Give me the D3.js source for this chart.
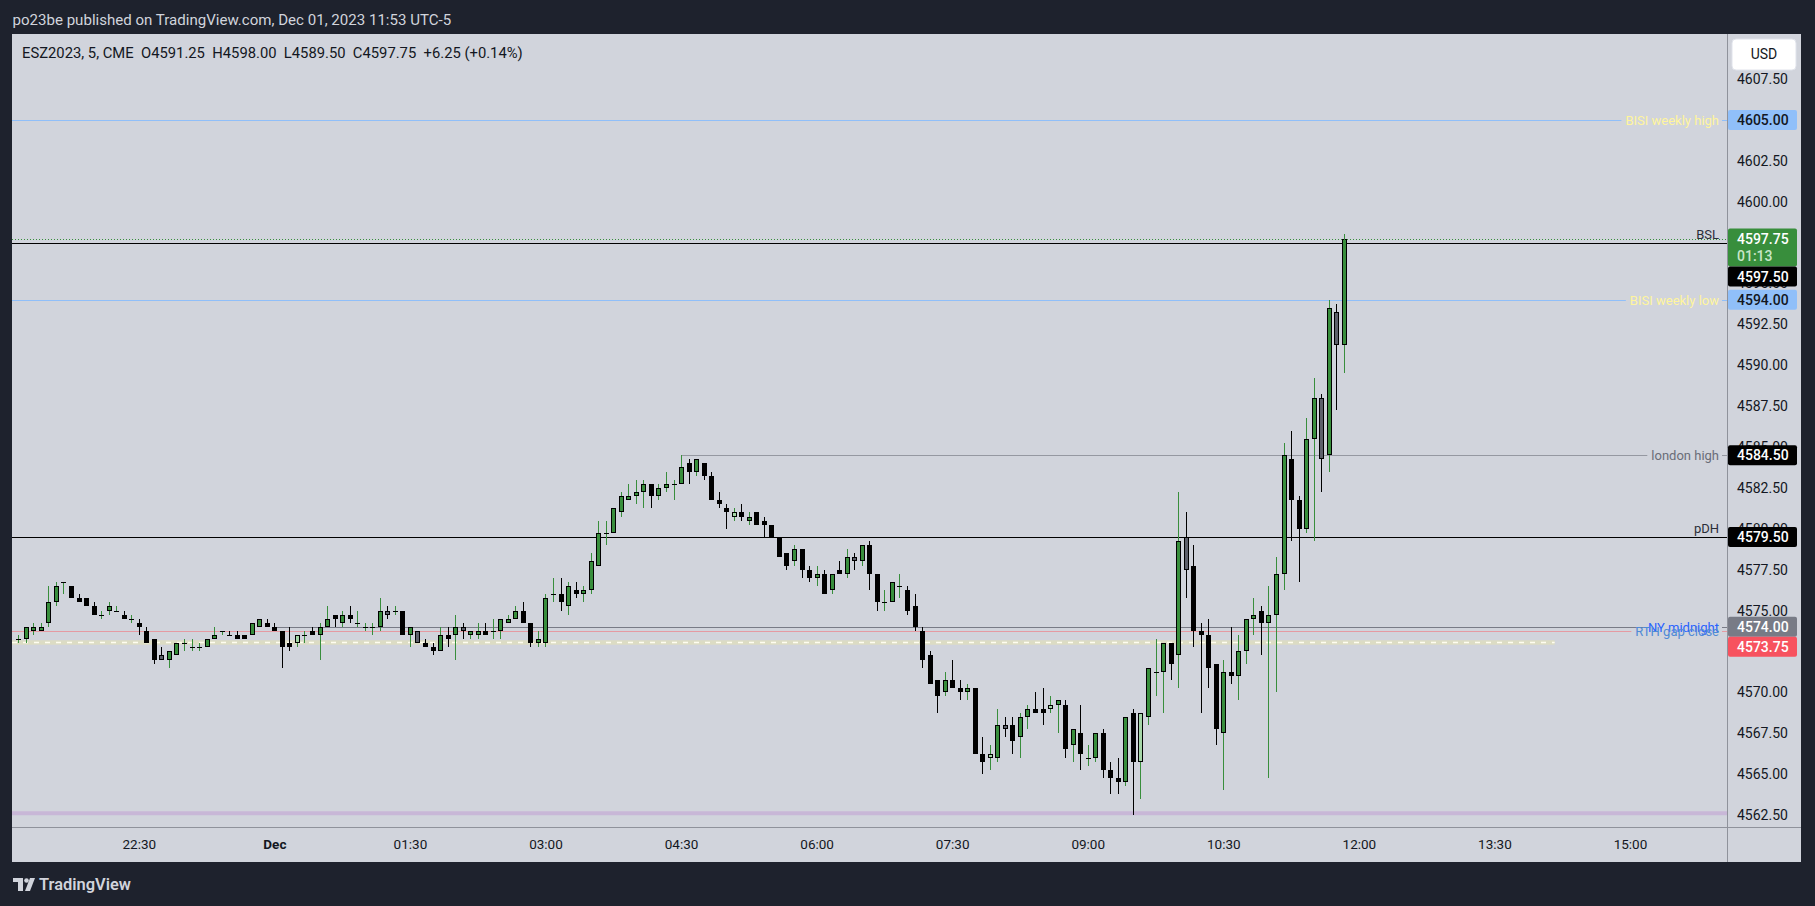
<!DOCTYPE html>
<html><head><meta charset="utf-8">
<script src="https://cdn.jsdelivr.net/npm/d3@7/dist/d3.min.js"></script>
<style>
html,body{margin:0;padding:0;background:#1e222d;overflow:hidden}
svg{display:block;font-family:Roboto,"Noto Sans","Liberation Sans",sans-serif}
</style></head><body>
<svg id="c" width="1815" height="906"></svg>
<script>
// ---------------- DATA ----------------
const symbolLine = "ESZ2023, 5, CME  O4591.25  H4598.00  L4589.50  C4597.75  +6.25 (+0.14%)";
const titleLine = "po23be published on TradingView.com, Dec 01, 2023 11:53 UTC-5";
const startTime = "2023-11-30T21:10:00Z";
const barMinutes = 5;
const opens = [
4573.25,4573.25,4573.75,4573.75,4574.25,4575.5,4576.75,4576.5,4575.75,4575.75,
4575.25,4574.75,4575,4575,4574.75,4574.5,4574.25,4573.75,4573.25,4572.25,
4572,4572.25,4573,4572.75,4572.75,4572.75,4573.25,4573.75,4573.5,4573.5,
4573.5,4573.5,4574,4574.25,4574,4573.75,4573,4573,4573.5,4573.75,
4573.5,4574,4574.75,4574.25,4574.75,4574.25,4574,4574,4574,4575,
4575,4575,4573.5,4573.75,4573,4572.75,4572.5,4573.5,4573.5,4574,
4573.5,4573.5,4573.75,4573.75,4573.75,4574.25,4574.5,4575,4574.25,4573,
4573,4576,4576,4575.25,4576.25,4576,4576.25,4577.75,4579.75,4579.75,
4581,4581.75,4582,4582.25,4582.75,4582,4582.5,4582.75,4582.75,4584,
4583.5,4584,4583.25,4581.75,4581.25,4580.75,4581,4580.5,4581,4580.5,
4580.25,4579.5,4578.5,4578,4578.75,4577.5,4577,4577.25,4576.25,4577.5,
4577.25,4578.25,4578,4579,4577.25,4575.5,4575.5,4576.5,4576.25,4575.25,
4573.75,4572.25,4570.75,4570,4570.75,4570.25,4570,4570.25,4566.25,4566,
4566,4568,4568,4567.25,4568.5,4569,4569,4569,4569.25,4569.25,
4566.75,4567.5,4566,4566,4567.5,4565.25,4564.75,4564.5,4568.75,4565.75,
4568.5,4571.25,4571.25,4573,4572.25,4579.5,4577.75,4573.75,4573.5,4571.75,
4567.5,4571.25,4571,4572.5,4574.5,4575,4574.25,4574.75,4577.25,4584.25,
4581.75,4580,4585.5,4588,4584.5,4593.25,4591.25];
const highs = [
4573.5,4574,4574.25,4574.25,4576.5,4576.75,4576.75,4576.5,4576,4575.75,
4575.5,4575,4575.5,4575.25,4575,4574.75,4574.5,4574,4573.25,4572.75,
4572.5,4573,4573.25,4573.25,4573,4573.25,4574,4573.75,4573.75,4573.75,
4573.5,4574.25,4574.5,4574.5,4574.25,4573.75,4574,4573.5,4573.75,4574,
4574.25,4575.25,4574.75,4575,4575.25,4575,4574.25,4574.25,4575.75,4575.25,
4575.25,4575,4574,4573.75,4573.25,4573,4574,4574,4574.75,4574.25,
4573.75,4574.25,4574.25,4574.5,4574.5,4574.75,4575.25,4575.5,4574.25,4573.75,
4576,4577,4577,4576.75,4576.75,4576.5,4578.5,4580.5,4580.5,4581.25,
4582.25,4582.75,4583,4583,4582.75,4582.75,4583.5,4583,4584.5,4584.25,
4584.25,4584,4583.5,4582.25,4581.5,4581.25,4581.5,4581,4581,4580.75,
4580.25,4579.5,4578.5,4579,4578.75,4577.75,4577.75,4577.5,4577.25,4578,
4578.75,4578.5,4579,4579.25,4577.25,4576.25,4576.75,4577.25,4576.5,4576,
4574,4572.5,4570.75,4571.25,4572,4570.75,4570.5,4570.25,4567.25,4566.75,
4569,4568.5,4568.5,4568.75,4569.25,4570,4570.25,4569.75,4569.5,4569.5,
4567.75,4569.25,4566.75,4567.5,4567.75,4565.75,4566,4568.5,4569,4568.75,
4571.5,4573.25,4573,4573,4582.25,4581,4579,4574.25,4574.5,4571.75,
4572,4574,4573.5,4574.5,4575.75,4575.25,4576.5,4578.25,4585.25,4586,
4582,4586.75,4589.25,4588.25,4594,4593.75,4598];
const lows = [
4573,4573,4573.5,4573.75,4574,4575.25,4576,4575.75,4575.5,4575.25,
4574.75,4574.5,4574.75,4575,4574.5,4574.25,4573.5,4573,4571.75,4572,
4571.5,4572.25,4572.5,4572.5,4572.5,4572.75,4573.25,4573.5,4573.5,4573.25,
4573.25,4573.5,4574,4574,4573.75,4571.5,4572.5,4572.75,4573,4573.5,
4572,4574,4574,4574,4574.25,4574,4573.75,4573.5,4573.75,4574.5,
4574.75,4573.5,4572.75,4573,4572.75,4572.25,4572.5,4572.75,4572,4573.25,
4573.25,4573.25,4573.5,4573.25,4573.25,4574.25,4574.5,4574.25,4572.75,4572.75,
4572.75,4575.5,4575,4574.75,4575.75,4575.5,4576,4577.75,4579,4579.75,
4580.75,4581.75,4581.5,4581.25,4581.25,4581.75,4582.25,4581.75,4582.75,4582.75,
4583.25,4583,4581.75,4581.25,4580,4580.5,4580.5,4580.25,4580.25,4579.5,
4579.5,4578.25,4577.5,4577.75,4577,4576.75,4576.5,4576,4576,4577.25,
4577,4577.5,4577.75,4576.25,4575,4575,4575.5,4575.75,4574.75,4573.75,
4571.5,4570.5,4568.75,4569.75,4570.25,4569.5,4569.5,4566.25,4565,4565.25,
4565.75,4567.25,4566.25,4566,4567.75,4568.75,4568,4568.75,4567.5,4566,
4565.75,4565.25,4565.5,4565.75,4564.75,4563.75,4563.75,4564.25,4562.5,4563.5,
4568,4569.75,4568.75,4570.75,4570.25,4575.75,4572.75,4568.75,4570.25,4566.75,
4564,4570.5,4569.5,4571.75,4573.5,4572.25,4564.75,4570,4576.25,4579.25,
4576.75,4579.75,4579.25,4582.25,4583.5,4587.25,4589.5];
const closes = [
4573.25,4574,4574,4574,4575.5,4576.5,4576.75,4575.75,4575.5,4575.25,
4574.75,4574.75,4575.25,4575,4574.5,4574.5,4574,4573,4572,4572,
4572.5,4573,4573,4572.75,4572.75,4573.25,4573.5,4573.75,4573.5,4573.25,
4573.25,4574.25,4574.5,4574,4573.75,4572.75,4572.75,4573.5,4573.5,4573.5,
4574,4574.5,4574.5,4574.75,4574.5,4574.25,4574,4574,4575,4574.75,
4575,4573.5,4574,4573,4572.75,4572.5,4573.5,4573.25,4574,4573.75,
4573.75,4573.75,4573.5,4573.75,4574.5,4574.5,4575,4574.25,4573,4573.25,
4575.75,4576,4575.5,4576.5,4576,4576.25,4578,4579.75,4579.75,4581.25,
4582,4582,4582.25,4582.75,4582,4582.5,4582.75,4582.75,4583.75,4583.5,
4584.25,4583.25,4581.75,4581.5,4581,4581,4580.75,4580.75,4580.25,4580.25,
4579.5,4578.25,4577.75,4578.75,4577.5,4577,4577.25,4576,4577.25,4577.25,
4578.25,4578,4579,4577.25,4575.5,4575.5,4576.75,4576.5,4575,4574,
4572,4570.5,4569.75,4570.75,4570.25,4570,4570.25,4566.25,4565.75,4566.25,
4568,4567.75,4567,4568.5,4569,4568.75,4568.75,4569.25,4569.5,4566.5,
4567.75,4566.25,4566,4567.5,4565.25,4564.75,4564.5,4568.5,4565.75,4568.75,
4571.5,4571.25,4573,4571.75,4579.25,4577.5,4573.75,4573.5,4571.5,4567.75,
4571.25,4571,4572.5,4574.5,4574.75,4574.25,4574.75,4577.25,4584.5,4581.75,
4580,4585.5,4588,4584.25,4593.5,4591.25,4597.75];
// bar state as coloured by the chart: u=up, d=down, g=grey, l=light up
const kinds = [
"u","u","u","u","u","u","u","d","d","d",
"d","u","u","u","d","u","d","d","d","g",
"u","u","u","u","u","u","u","u","d","d",
"d","u","u","d","d","d","d","l","u","d",
"u","u","d","u","d","u","u","u","u","g",
"u","d","u","g","d","d","u","d","u","g",
"u","u","d","u","u","u","u","d","d","u",
"u","u","d","u","d","u","u","u","u","u",
"u","u","u","u","d","u","u","u","u","d",
"u","d","d","d","d","l","d","u","d","d",
"d","d","d","u","d","d","u","d","u","d",
"u","g","u","d","d","u","u","u","d","d",
"d","d","d","u","d","d","u","d","d","l",
"u","g","d","u","u","d","d","l","u","d",
"u","d","u","u","d","d","d","u","d","l",
"u","u","u","d","u","g","d","d","d","d",
"u","d","u","u","u","d","u","u","u","d",
"d","u","u","g","u","g","u"];

const levelNames  = ["BISI weekly high","BSL","BISI weekly low","london high","pDH","NY midnight","RTH gap close"];
const levelPrices = [4605, 4597.5, 4594, 4584.5, 4579.5, 4574, 4573.75];
const levelStarts = [null, null, null, "2023-12-01T04:30:00Z", null, "2023-12-01T00:00:00Z", null];
const gapPrice = 4573.1, gapEnd = "2023-12-01T14:10:00Z";
const floorPrice = 4562.6;
const countdown = "01:13";

const priceTicks = [4562.5,4565,4567.5,4570,4572.5,4575,4577.5,4580,4582.5,4585,4587.5,4590,4592.5,4595,4597.5,4600,4602.5,4605,4607.5];
const timeTickValues = ["2023-11-30T22:30:00Z","2023-12-01T00:00:00Z","2023-12-01T01:30:00Z","2023-12-01T03:00:00Z","2023-12-01T04:30:00Z","2023-12-01T06:00:00Z","2023-12-01T07:30:00Z","2023-12-01T09:00:00Z","2023-12-01T10:30:00Z","2023-12-01T12:00:00Z","2023-12-01T13:30:00Z","2023-12-01T15:00:00Z"];
const timeTickLabels = ["22:30","Dec","01:30","03:00","04:30","06:00","07:30","09:00","10:30","12:00","13:30","15:00"];

// -------------- STYLE / LAYOUT --------------
const PL=12, PR=1727, PT=34, PB=827, AR=1801, AB=862;
const BG="#1e222d", PANEL="#d1d4dc", INK="#131722";
const kindFill = {u:"#388e3c", d:"#000000", g:"#5d606b", l:"#a5d6a7"};
const kindWick = {u:"#388e3c", d:"#000000", g:"#000000", l:"#388e3c"};
const levelStyle = {
  "BISI weekly high":{stroke:"#90bff9", text:"#fff59d", pos:"mid"},
  "BSL":{stroke:"#000000", text:"#2a2e39", pos:"above"},
  "BISI weekly low":{stroke:"#90bff9", text:"#fff59d", pos:"mid"},
  "london high":{stroke:"#9598a1", text:"#6a6d78", pos:"mid"},
  "pDH":{stroke:"#000000", text:"#2a2e39", pos:"above"},
  "NY midnight":{stroke:"#787b86", text:"#2962ff", pos:"mid"},
  "RTH gap close":{stroke:"#e59aa2", text:"#4f8ad6", pos:"mid"}
};

const svg = d3.select("#c");
const times = opens.map((d,i)=> new Date(Date.parse(startTime) + i*barMinutes*60000));
const bars = opens.map((o,i)=>({t:times[i], o, h:highs[i], l:lows[i], c:closes[i], k:kinds[i]}));

const x = d3.scaleUtc().domain([times[0], times[times.length-1]]).range([18.3, 1343.8]);
const y = d3.scaleLinear().domain([4562.5, 4605]).range([814.9, 120]);

// background
svg.append("rect").attr("width",1815).attr("height",906).attr("fill",BG);
svg.append("rect").attr("x",PL).attr("y",PT).attr("width",AR-PL).attr("height",AB-PT).attr("fill",PANEL);

svg.append("defs").append("clipPath").attr("id","plotclip")
  .append("rect").attr("x",PL).attr("y",PT).attr("width",PR-PL).attr("height",PB-PT);
const plot = svg.append("g").attr("clip-path","url(#plotclip)");

// floor line (purple band)
plot.append("line").attr("x1",PL).attr("x2",PR).attr("y1",y(floorPrice)).attr("y2",y(floorPrice))
  .attr("stroke","#c8b7d7").attr("stroke-width",4);
// gap band (yellow dashed)
const gy = Math.round(y(gapPrice))+0.5;
plot.append("line").attr("x1",PL).attr("x2",x(new Date(gapEnd))).attr("y1",gy).attr("y2",gy)
  .attr("stroke","#dcdcc4").attr("stroke-width",4.5);
plot.append("line").attr("x1",PL).attr("x2",x(new Date(gapEnd))).attr("y1",gy).attr("y2",gy)
  .attr("stroke","#fffdf0").attr("stroke-width",1.3).attr("stroke-dasharray","5,6");

// level lines + labels
const labelG = svg.append("g").attr("font-size",13);
levelNames.forEach((name,i)=>{
  const st = levelStyle[name];
  const yy = Math.round(y(levelPrices[i]))+0.5;
  const xs = levelStarts[i] ? x(new Date(levelStarts[i])) : PL;
  const t = labelG.append("text").attr("x",1719).attr("text-anchor","end")
     .attr("fill",st.text).text(name);
  if (st.pos==="above") { t.attr("y", yy-5); }
  else { t.attr("y", yy).attr("dy","0.35em"); }
  const tw = t.node().getComputedTextLength();
  if (st.pos==="above") {
    plot.append("line").attr("x1",xs).attr("x2",PR).attr("y1",yy).attr("y2",yy).attr("stroke",st.stroke);
  } else {
    plot.append("line").attr("x1",xs).attr("x2",1719-tw-4).attr("y1",yy).attr("y2",yy).attr("stroke",st.stroke);
    plot.append("line").attr("x1",1722).attr("x2",PR).attr("y1",yy).attr("y2",yy).attr("stroke",st.stroke);
  }
});

// candles
const cg = plot.append("g");
bars.forEach(b=>{
  const cx = Math.round(x(b.t));
  const yh = Math.round(y(b.h)), yl = Math.round(y(b.l));
  cg.append("rect").attr("x",cx).attr("y",yh).attr("width",1).attr("height",Math.max(1,yl-yh)).attr("fill",kindWick[b.k]);
  const top = Math.round(y(Math.max(b.o,b.c))), bot = Math.round(y(Math.min(b.o,b.c)));
  const hgt = Math.max(1, bot-top);
  cg.append("rect").attr("x",cx-2).attr("y",top).attr("width",5).attr("height",hgt).attr("fill","#000");
  if (hgt>2 && b.k!=="d") {
    cg.append("rect").attr("x",cx-1).attr("y",top+1).attr("width",3).attr("height",hgt-2).attr("fill",kindFill[b.k]);
  }
});

// current price dotted line
const last = bars[bars.length-1];
const cy = Math.round(y(last.c))+0.5;
plot.append("line").attr("x1",PL).attr("x2",PR).attr("y1",cy).attr("y2",cy)
  .attr("stroke","#388e3c").attr("stroke-dasharray","1,2");

// frame lines
svg.append("line").attr("x1",PR+0.5).attr("x2",PR+0.5).attr("y1",PT).attr("y2",AB).attr("stroke","#8f929b");
svg.append("line").attr("x1",PL).attr("x2",AR).attr("y1",PB+0.5).attr("y2",PB+0.5).attr("stroke","#8f929b");

// price boxes (geometry first, so fully hidden tick labels can be skipped)
const fmt = d3.format(".2f");
const boxes = [
  {p:levelPrices[0], fill:"#90bff9", ink:INK, lines:[fmt(levelPrices[0])]},
  {p:last.c, fill:"#388e3c", ink:"#ffffff", lines:[fmt(last.c), countdown], sub:"#c8e6c9"},
  {p:levelPrices[1], fill:"#000000", ink:"#ffffff", lines:[fmt(levelPrices[1])]},
  {p:levelPrices[2], fill:"#90bff9", ink:INK, lines:[fmt(levelPrices[2])]},
  {p:levelPrices[3], fill:"#000000", ink:"#ffffff", lines:[fmt(levelPrices[3])]},
  {p:levelPrices[4], fill:"#000000", ink:"#ffffff", lines:[fmt(levelPrices[4])]},
  {p:levelPrices[5], fill:"#787b86", ink:"#ffffff", lines:[fmt(levelPrices[5])]},
  {p:levelPrices[6], fill:"#f7525f", ink:"#ffffff", lines:[fmt(levelPrices[6])]}
];
let prevBottom = -1e9;
boxes.forEach(b=>{
  b.h = 20 + (b.lines.length-1)*18;
  let top = y(b.p) - 10;
  if (top < prevBottom) top = prevBottom;
  b.top = top;
  prevBottom = top + b.h;
});
const hidden = v => boxes.some(b => b.top <= y(v)-5 && b.top + b.h >= y(v)+5);

// price axis
const yAxis = svg.append("g").attr("transform",`translate(${PR},0)`)
  .call(d3.axisRight(y).tickValues(priceTicks.filter(v=>!hidden(v))).tickFormat(d3.format(".2f")).tickSize(0).tickPadding(10));
yAxis.select(".domain").remove();
yAxis.selectAll("text").attr("font-size",14).attr("fill",INK).attr("font-family","Roboto,sans-serif");

// time axis
const xAxis = svg.append("g").attr("transform",`translate(0,${PB})`)
  .call(d3.axisBottom(x).tickValues(timeTickValues.map(d=>new Date(d))).tickFormat((d,i)=>timeTickLabels[i]).tickSize(0).tickPadding(12));
xAxis.select(".domain").remove();
xAxis.selectAll("text").attr("font-size",13.5).attr("fill",INK).attr("font-family","Roboto,sans-serif")
  .attr("font-weight",(d,i)=> timeTickLabels[i]==="Dec" ? "bold" : "normal");

const bg = svg.append("g");
boxes.forEach(b=>{
  bg.append("rect").attr("x",PR+1).attr("y",b.top).attr("width",69).attr("height",b.h).attr("rx",2).attr("fill",b.fill);
  b.lines.forEach((s,j)=>{
    bg.append("text").attr("x",1737).attr("y",b.top+10+j*17.5).attr("dy","0.36em")
      .attr("font-size",14).attr("font-weight",500).attr("fill", j===0? b.ink : (b.sub||b.ink)).text(s);
  });
});

// USD button
svg.append("rect").attr("x",1732).attr("y",39).attr("width",64).attr("height",31).attr("rx",4)
  .attr("fill","#ffffff").attr("stroke","#e0e3eb");
svg.append("text").attr("x",1764).attr("y",54.5).attr("dy","0.35em").attr("text-anchor","middle")
  .attr("font-size",14).attr("fill",INK).text("USD");

// header texts
function fit(sel, target){ const w = sel.node().getComputedTextLength(); sel.attr("font-size", parseFloat(sel.attr("font-size"))*target/w); }
const title = svg.append("text").attr("x",12.5).attr("y",19.5).attr("dy","0.35em").attr("font-size",15)
  .attr("fill","#d1d4dc").text(titleLine);
fit(title, 439);
const legend = svg.append("text").attr("x",22).attr("y",53).attr("dy","0.35em").attr("font-size",14)
  .attr("fill",INK).style("white-space","pre").text(symbolLine);
fit(legend, 501);

// footer logo
const lg = svg.append("g").attr("fill","#d1d4dc");
lg.append("path").attr("d","M13 878 H23 V891 H18 V882 H13 Z");
lg.append("circle").attr("cx",26.5).attr("cy",880.5).attr("r",2.3);
lg.append("path").attr("d","M30 878 H35 L30 891 H25 Z");
const foot = svg.append("text").attr("x",39).attr("y",884.5).attr("dy","0.35em").attr("font-size",16)
  .attr("font-weight",600).attr("fill","#d1d4dc").text("TradingView");
fit(foot, 92);
</script>
</body></html>
